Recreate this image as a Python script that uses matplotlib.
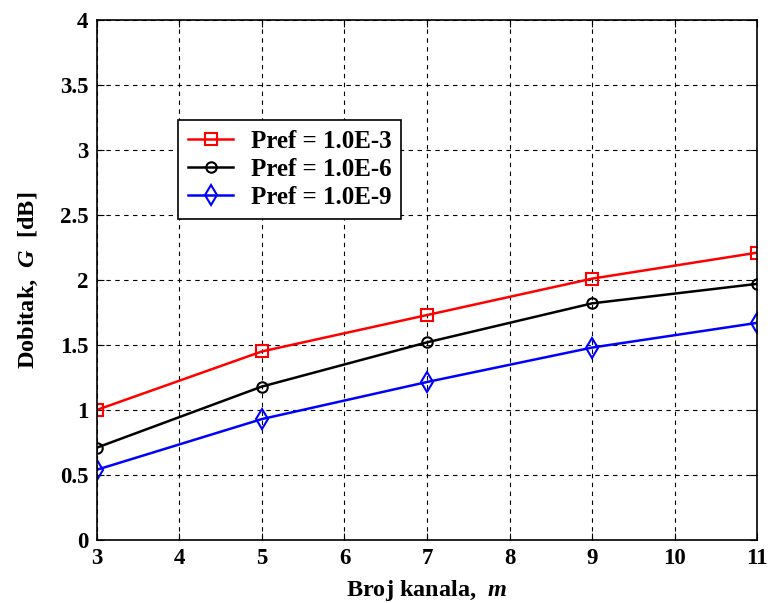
import matplotlib
matplotlib.use("Agg")
import matplotlib.pyplot as plt

# broj kanala
m = [3, 5, 7, 9, 11]
# dobitak G [dB] za tri vrijednosti Pref
g_e3 = [1.00, 1.45, 1.73, 2.01, 2.21]
g_e6 = [0.71, 1.18, 1.52, 1.82, 1.97]
g_e9 = [0.54, 0.93, 1.215, 1.48, 1.67]
labels = ["Pref = 1.0E-3", "Pref = 1.0E-6", "Pref = 1.0E-9"]

plt.rcParams['font.family'] = ['Liberation Serif', 'DejaVu Serif']
plt.rcParams['font.weight'] = 'bold'
plt.rcParams['mathtext.fontset'] = 'custom'
plt.rcParams['mathtext.it'] = 'Liberation Serif:italic:bold'
plt.rcParams['mathtext.rm'] = 'Liberation Serif:bold'

fig = plt.figure(figsize=(7.68, 6.03), dpi=100)
ax = fig.add_axes([0.126, 0.1045, 0.86, 0.8625])

ax.plot(m, g_e3, color='red', lw=1.8, marker='s', ms=8, mfc='none', mew=1.5, label=labels[0])
ax.plot(m, g_e6, color='black', lw=1.8, marker='o', ms=7.5, mfc='none', mew=1.5, label=labels[1])
ax.plot(m, g_e9, color='blue', lw=1.8, marker='d', ms=10, mfc='none', mew=1.5, label=labels[2])

ax.set_xlim(3, 11)
ax.set_ylim(0, 4)
ax.set_xticks(range(3, 12))
ax.set_yticks([0, 0.5, 1, 1.5, 2, 2.5, 3, 3.5, 4])
ax.set_yticklabels(['0', '0.5', '1', '1.5', '2', '2.5', '3', '3.5', '4'])
ax.grid(True, color='black', linestyle=(0, (4, 4)), lw=0.8)
ax.tick_params(direction='in', top=True, right=True, labelsize=16.5, length=5, pad=6)
for lab in ax.get_xticklabels() + ax.get_yticklabels():
    lab.set_fontweight('bold')
for s in ax.spines.values():
    s.set_linewidth(1.2)

ax.set_xlabel(r'Broj kanala,  $m$', fontsize=17.5, fontweight='bold', labelpad=6)
ax.set_ylabel(r'Dobitak,  $G$  [dB]', fontsize=17.5, fontweight='bold', labelpad=14)

leg = ax.legend(loc='upper left', bbox_to_anchor=(0.123, 0.808),
                prop={'weight': 'bold', 'size': 18}, fancybox=False, framealpha=1,
                edgecolor='black', handlelength=1.8, handletextpad=0.7,
                labelspacing=0.2, borderpad=0.4, borderaxespad=0)
leg.get_frame().set_linewidth(1.2)

fig.savefig('out.png', dpi=100)
